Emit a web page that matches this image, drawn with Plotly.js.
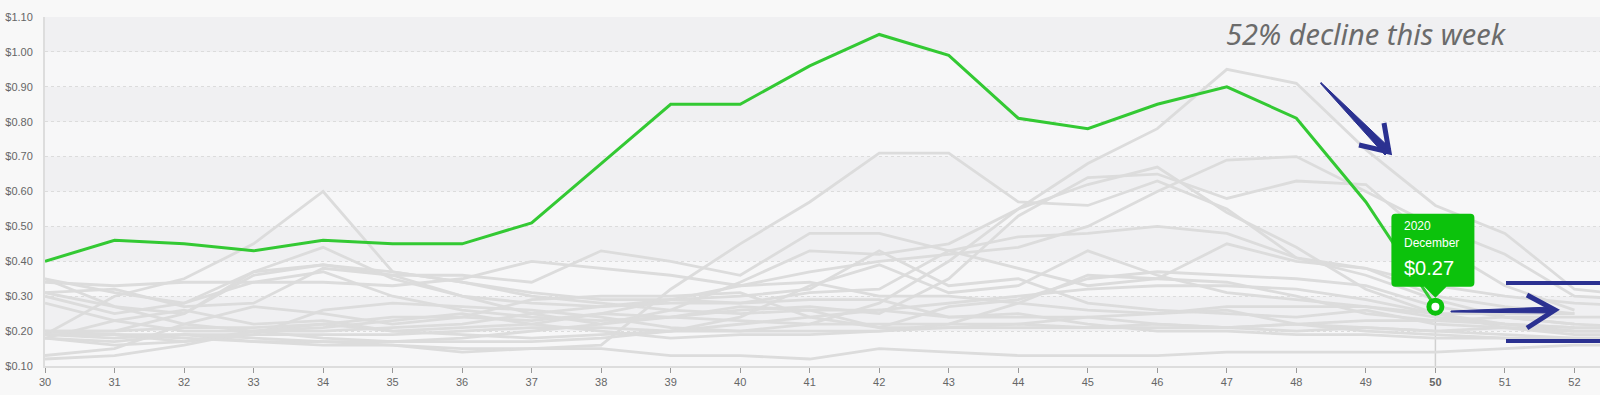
<!DOCTYPE html>
<html><head><meta charset="utf-8">
<script src="https://cdn.plot.ly/plotly-3.0.1.min.js"></script>
<style>html,body{margin:0;padding:0;background:#f8f8f8;overflow:hidden}#chart{width:1600px;height:395px}</style>
</head><body><div id="chart"></div>
<script>
// ---- data ----
const weeks = [30,31,32,33,34,35,36,37,38,39,40,41,42,43,44,45,46,47,48,49,50,51,52,53];
const tickVals = [30,31,32,33,34,35,36,37,38,39,40,41,42,43,44,45,46,47,48,49,50,51,52];
const tickLabels = ["30","31","32","33","34","35","36","37","38","39","40","41","42","43","44","45","46","47","48","49","<b>50</b>","51","52"];
const yTickVals = [0.1,0.2,0.3,0.4,0.5,0.6,0.7,0.8,0.9,1.0,1.1];
const yTickLabels = ["$0.10","$0.20","$0.30","$0.40","$0.50","$0.60","$0.70","$0.80","$0.90","$1.00","$1.10"];

const price2020 = [0.40,0.46,0.45,0.43,0.46,0.45,0.45,0.51,0.68,0.85,0.85,0.96,1.05,0.99,0.81,0.78,0.85,0.90,0.81,0.57,0.27];
const highlightYear = "2020";
const highlightMonth = "December";

const otherA = [0.19,0.30,0.35,0.45,0.60,0.37,0.34,0.30,0.28,0.26,0.25,0.26,0.21,0.21,0.22,0.21,0.22,0.21,0.20,0.21,0.20,0.19,0.18,0.18];
const otherB = [0.35,0.27,0.25,0.37,0.44,0.35,0.30,0.28,0.27,0.29,0.30,0.32,0.43,0.33,0.35,0.28,0.26,0.25,0.24,0.26,0.22,0.21,0.20,null];
const otherC = [0.34,0.33,0.34,0.34,0.34,0.33,0.35,0.40,0.38,0.36,0.33,0.34,0.30,0.30,0.28,0.26,0.25,0.26,0.22,0.21,0.20,0.21,0.20,0.20];
const otherD = [0.31,0.32,0.27,0.28,0.38,0.36,0.36,0.34,0.43,0.40,0.36,0.48,0.48,0.43,0.38,0.33,0.35,0.45,0.40,0.38,0.30,0.27,0.25,null];
const otherE = [0.30,0.25,0.28,0.37,0.39,0.37,0.34,0.31,0.29,0.29,0.28,0.31,0.32,0.43,0.47,0.48,0.50,0.48,0.41,0.38,0.33,0.30,0.28,0.27];
const otherF = [0.28,0.23,0.20,0.20,0.22,0.20,0.21,0.22,0.25,0.29,0.33,0.37,0.40,0.42,0.44,0.50,0.60,0.69,0.70,0.60,0.50,0.42,0.30,0.29];
const otherG = [0.20,0.20,0.25,0.36,0.39,0.36,0.30,0.25,0.22,0.24,0.26,0.27,0.25,0.35,0.53,0.64,0.65,0.58,0.63,0.62,0.45,0.33,0.26,null];
const otherH = [0.20,0.19,0.17,0.19,0.26,0.28,0.27,0.26,0.24,0.21,0.20,0.22,0.28,0.40,0.55,0.62,0.67,0.54,0.44,0.32,0.25,0.22,0.20,0.20];
const otherI = [0.18,0.16,0.17,0.20,0.18,0.17,0.18,0.20,0.22,0.26,0.34,0.43,0.42,0.45,0.55,0.68,0.78,0.95,0.91,0.72,0.56,0.48,0.32,0.30];
const otherJ = [0.19,0.18,0.19,0.17,0.17,0.16,0.15,0.15,0.16,0.32,0.45,0.57,0.71,0.71,0.57,0.56,0.63,0.55,0.41,0.36,0.29,0.24,0.22,null];
const otherK = [0.13,0.15,0.22,0.27,0.25,0.22,0.24,0.29,0.30,0.30,0.31,0.24,0.21,0.27,0.29,0.35,0.37,0.36,0.35,0.33,0.27,0.24,0.22,0.21];
const otherL = [0.12,0.13,0.16,0.20,0.21,0.23,0.25,0.22,0.20,0.18,0.19,0.19,0.20,0.22,0.28,0.36,0.35,0.34,0.30,0.25,0.23,0.22,0.21,null];
const otherM = [0.18,0.17,0.19,0.18,0.17,0.17,0.17,0.17,0.18,0.20,0.22,0.24,0.26,0.28,0.30,0.32,0.33,0.33,0.32,0.29,0.25,0.21,0.19,0.19];
const otherN = [0.19,0.19,0.18,0.17,0.16,0.16,0.14,0.15,0.15,0.13,0.13,0.12,0.15,0.14,0.13,0.13,0.13,0.14,0.14,0.14,0.14,0.15,0.16,0.16];
const otherO = [0.20,0.20,0.21,0.21,0.22,0.24,0.24,0.23,0.25,0.24,0.23,0.22,0.22,0.22,0.22,0.24,0.25,0.27,0.27,0.27,0.25,0.25,0.25,null];
const otherP = [0.31,0.27,0.22,0.20,0.20,0.21,0.22,0.25,0.27,0.28,0.28,0.29,0.29,0.24,0.24,0.24,0.22,0.21,0.22,0.20,0.19,0.18,0.17,0.17];
const otherQ = [0.35,0.31,0.28,0.34,0.37,0.30,0.26,0.24,0.23,0.24,0.27,0.26,0.26,0.24,0.25,0.22,0.20,0.20,0.19,0.19,0.18,0.18,0.18,0.18];
const otherR = [0.19,0.19,0.19,0.19,0.19,0.19,0.20,0.21,0.21,0.20,0.20,0.20,0.20,0.21,0.21,0.21,0.21,0.21,0.22,0.23,0.23,0.24,0.24,0.24];
const otherS = [0.18,0.23,0.26,0.22,0.23,0.20,0.19,0.18,0.19,0.20,0.24,0.33,0.39,0.31,0.33,0.43,0.36,0.31,0.29,0.27,0.24,0.22,0.21,0.21];
const others = [otherA,otherB,otherC,otherD,otherE,otherF,otherG,otherH,otherI,otherJ,otherK,otherL,otherM,otherN,otherO,otherP,otherQ,otherR,otherS];

// ---- styling ----
const GREEN = '#33c933', TIP = '#0cc20c', NAVY = '#2b3191', GRAY = '#dcdcdc';
const traces = others.map(s => ({
  x: weeks, y: s, type: 'scatter', mode: 'lines',
  line: {color: GRAY, width: 2.8}, hoverinfo: 'skip', showlegend: false
}));
const nG = price2020.length;
traces.push({x: weeks.slice(0, nG), y: price2020, type: 'scatter', mode: 'lines',
  line: {color: GREEN, width: 3}, hoverinfo: 'skip', showlegend: false});
const hx = weeks[nG - 1], hy = price2020[nG - 1];
traces.push({x: [hx], y: [hy], type: 'scatter', mode: 'markers',
  marker: {size: 13, color: '#ffffff', line: {color: TIP, width: 5}}, hoverinfo: 'skip', showlegend: false});

// pixel -> paper helpers (plot area: x 45..1600, y 17..366)
const L = 45, T = 17, W = 1555, H = 349;
const px = x => ((x - L) / W).toFixed(5);
const py = y => ((T + H - y) / H).toFixed(5);
const P = (x, y) => px(x) + ',' + py(y);

const shapes = [];
// alternating bands
for (let i = 0; i < yTickVals.length - 1; i++) {
  if ((yTickVals.length - 2 - i) % 2 === 0) {
    shapes.push({type: 'rect', xref: 'paper', yref: 'y', x0: 0, x1: 1, y0: yTickVals[i], y1: yTickVals[i + 1],
      fillcolor: '#f0f0f2', line: {width: 0}, layer: 'below'});
  }
}
// spike line under highlighted point
shapes.push({type: 'line', xref: 'x', yref: 'y', x0: hx, x1: hx, y0: yTickVals[0], y1: hy,
  line: {color: '#d0d0d0', width: 1.5}, layer: 'below'});
// tooltip box with pointer
shapes.push({type: 'path', xref: 'x', yref: 'y', xsizemode: 'pixel', ysizemode: 'pixel', xanchor: hx, yanchor: hy,
  path: 'M -40 20 L -11 20 L 0 9 L 11 20 L 35 20 Q 39 20 39 24 L 39 89 Q 39 93 35 93 L -40 93 Q -44 93 -44 89 L -44 24 Q -44 20 -40 20 Z',
  fillcolor: TIP, line: {width: 0}, layer: 'above'});
// arrow 1 (diagonal, tapered)
shapes.push({type: 'path', xref: 'paper', yref: 'paper',
  path: `M ${P(1321,82.5)} L ${P(1391,149)} L ${P(1385,155)} L ${P(1320.5,83.5)} Z`,
  fillcolor: NAVY, line: {color: NAVY, width: 1}, layer: 'above'});
shapes.push({type: 'path', xref: 'paper', yref: 'paper',
  path: `M ${P(1359,145)} L ${P(1389,152)} L ${P(1384,123)}`,
  line: {color: NAVY, width: 5}, layer: 'above'});
// arrow 2 (horizontal, tapered)
shapes.push({type: 'path', xref: 'paper', yref: 'paper',
  path: `M ${P(1451,311)} L ${P(1552,307)} L ${P(1552,313)} L ${P(1451,312)} Z`,
  fillcolor: NAVY, line: {color: NAVY, width: 1}, layer: 'above'});
shapes.push({type: 'path', xref: 'paper', yref: 'paper',
  path: `M ${P(1527,295)} L ${P(1555,310)} L ${P(1527,328)}`,
  line: {color: NAVY, width: 5}, layer: 'above'});
// horizontal bars
shapes.push({type: 'line', xref: 'paper', yref: 'paper', x0: px(1506), x1: 1, y0: py(283), y1: py(283),
  line: {color: NAVY, width: 4}, layer: 'above'});
shapes.push({type: 'line', xref: 'paper', yref: 'paper', x0: px(1506), x1: 1, y0: py(341), y1: py(341),
  line: {color: NAVY, width: 4}, layer: 'above'});

const tipFont = {family: 'Liberation Sans, Arial, sans-serif', color: '#ffffff'};
const annotations = [
  {xref: 'x', yref: 'y', x: hx, y: hy, text: highlightYear, showarrow: false, xanchor: 'left', yanchor: 'middle',
    xshift: -33, yshift: 81, font: Object.assign({size: 12}, tipFont)},
  {xref: 'x', yref: 'y', x: hx, y: hy, text: highlightMonth, showarrow: false, xanchor: 'left', yanchor: 'middle',
    xshift: -33, yshift: 64, font: Object.assign({size: 12}, tipFont)},
  {xref: 'x', yref: 'y', x: hx, y: hy, text: '$' + hy.toFixed(2), showarrow: false, xanchor: 'left', yanchor: 'middle',
    xshift: -33, yshift: 39, font: Object.assign({size: 20}, tipFont)},
  {xref: 'paper', yref: 'paper', x: px(1366), y: py(33), text: '52% decline this week', showarrow: false,
    xanchor: 'center', yanchor: 'middle', font: {family: 'Noto Sans, sans-serif', size: 29, color: '#6b6b6b', style: 'italic'}}
];

const layout = {
  width: 1600, height: 395,
  margin: {l: L, r: 0, t: T, b: 395 - T - H, pad: 0},
  paper_bgcolor: '#f8f8f8', plot_bgcolor: '#f7f7f8',
  showlegend: false, hovermode: false,
  font: {family: 'Liberation Sans, Arial, sans-serif', size: 11, color: '#666'},
  xaxis: {range: [30, 30 + W / 69.52], tickmode: 'array', tickvals: tickVals, ticktext: tickLabels,
    showgrid: false, zeroline: false, showline: true, linecolor: '#dddddd', linewidth: 2,
    ticks: 'outside', ticklen: 5, tickwidth: 1, tickcolor: '#999', tickfont: {size: 11, color: '#666'}},
  yaxis: {range: [0.1, 1.1], tickmode: 'array', tickvals: yTickVals, ticktext: yTickLabels,
    showgrid: true, gridcolor: '#dcdcdc', griddash: 'dot', gridwidth: 1, zeroline: false,
    showline: true, linecolor: '#dddddd', linewidth: 2, ticks: '', ticklabelstandoff: 8,
    tickfont: {size: 11, color: '#666'}},
  shapes: shapes, annotations: annotations
};
Plotly.newPlot('chart', traces, layout, {displayModeBar: false, staticPlot: true});
</script></body></html>
